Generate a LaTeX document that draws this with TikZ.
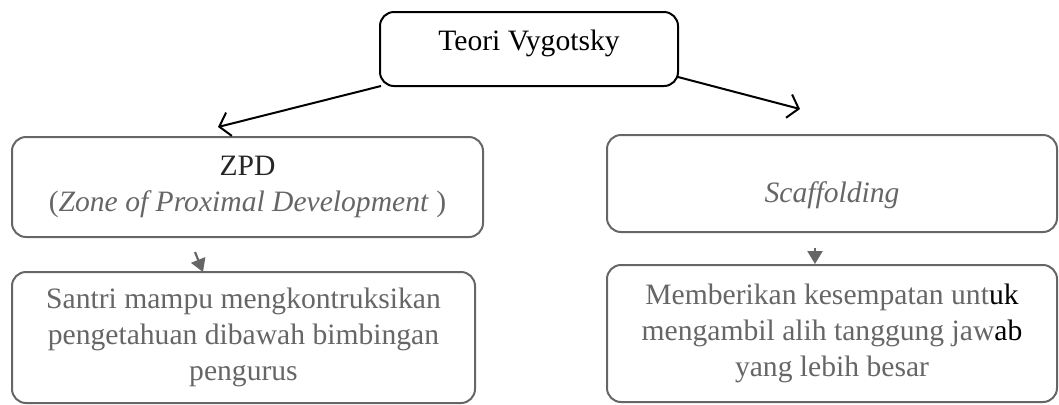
\documentclass[tikz,border=0pt]{standalone}
\usepackage{fontspec}
\setmainfont{Liberation Serif}
\usetikzlibrary{arrows.meta,positioning,calc}
\definecolor{abu}{gray}{0.4}
\tikzset{
  kotak/.style={draw,rounded corners=7pt,line width=1pt,align=center,inner sep=0pt},
  kotakabu/.style={kotak,draw=abu,text=abu},
  panah/.style={line width=1pt,-{Straight Barb[length=5pt,width=12pt]}},
  panahkecil/.style={line width=1.1pt,draw=abu,-{Triangle[length=6.5pt,width=7.5pt,fill=abu]}},
}

\begin{document}
\begin{tikzpicture}[x=0.5pt,y=-0.5pt,font=\fontsize{14.8}{18}\selectfont]
  \useasboundingbox (0,0) rectangle (1059,404);
  % kotak atas
  \node[kotak,minimum width=149pt,minimum height=37pt,text depth=9pt] (teori) at (529,49) {Teori Vygotsky};
  % kotak tengah
  \node[kotakabu,minimum width=235.5pt,minimum height=50pt] (zpd) at (247.5,187)
    {\textcolor{black!85}{ZPD}\\(\textit{Zone of Proximal Development} )};
  \node[kotakabu,minimum width=225pt,minimum height=48.5pt,text height=22pt] (scaf) at (832,183.5) {\textit{Scaffolding}};
  % kotak bawah
  \node[kotakabu,minimum width=231.5pt,minimum height=65.5pt] (santri) at (243.5,337.5)
    {Santri mampu mengkontruksikan\\pengetahuan dibawah bimbingan\\pengurus};
  \node[kotakabu,minimum width=225pt,minimum height=68.5pt] (beri) at (832,333.5)
    {Memberikan kesempatan unt\textcolor{black}{uk}\\mengambil alih tanggung jaw\textcolor{black}{ab}\\yang lebih besar};
  % panah
  \coordinate (ka) at (218,127);
  \coordinate (kb) at (800,109);
  \coordinate (ta) at (381,86);
  \coordinate (tb) at (678,77);
  \coordinate (sa) at (195,252);
  \coordinate (sb) at (815,248);
  \draw[panah] (ta) -- (ka);
  \draw[panah] (tb) -- (kb);
  \draw[panahkecil] (sa) -- (203,272);
  \draw[panahkecil] (sb) -- (beri.north -| sb);
\end{tikzpicture}
\end{document}
